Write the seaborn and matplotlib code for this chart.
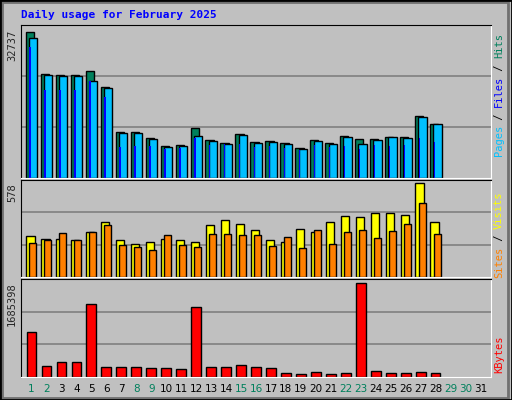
import numpy as np
import matplotlib
matplotlib.use('Agg')
import matplotlib.pyplot as plt
import seaborn as sns
import pandas as pd

# values
days = list(range(1, 32))
hits = [32737, 23200, 23000, 23000, 23900, 20400, 10300, 10300, 9000, 7200,
        7400, 11200, 8500, 7900, 9800, 8100, 8300, 7900, 6700, 8500,
        7900, 9400, 8700, 8700, 9200, 9200, 13900, 12100]
files = [31400, 23000, 22800, 22800, 21700, 20200, 10100, 10100, 8700, 7000,
         7200, 9400, 8300, 7600, 9600, 7900, 8100, 7600, 6500, 8300,
         7600, 9200, 7600, 8500, 9200, 9000, 13700, 12100]
pages = [29400, 19700, 19700, 19700, 21700, 18000, 7000, 7200, 7200, 6500,
         6700, 8900, 7400, 7600, 7600, 6900, 7200, 6700, 6300, 7400,
         6900, 7200, 6500, 7400, 7200, 7400, 9000, 8100]
visits = [250, 235, 235, 230, 276, 340, 230, 202, 213, 235,
          230, 213, 322, 350, 326, 292, 230, 213, 298, 276,
          337, 376, 370, 393, 393, 381, 578, 337]
sites = [208, 230, 272, 230, 276, 320, 196, 185, 168, 259,
         196, 185, 264, 264, 259, 259, 191, 247, 179, 292,
         202, 276, 292, 242, 283, 326, 454, 264]
kbytes = [810000, 200000, 275000, 275000, 1300000, 180000, 180000, 180000, 160000, 160000,
          145000, 1260000, 180000, 180000, 215000, 180000, 160000, 70000, 55000, 90000,
          55000, 70000, 1685398, 110000, 70000, 70000, 90000, 70000]

weekend = {1, 2, 8, 9, 15, 16, 22, 23, 29, 30}
n = len(hits)
d = np.array(days[:n], dtype=float)

sns.set_style('white')
plt.rcParams['font.family'] = ['DejaVu Sans Mono', 'DejaVu Sans']

fig = plt.figure(figsize=(5.12, 4.0), dpi=100, facecolor='#C0C0C0')
W, H = 512, 400

def add_panel(y0, y1):
    ax = fig.add_axes([21 / W, 1 - y1 / H, 470 / W, (y1 - y0) / H])
    ax.set_facecolor('#C0C0C0')
    for s in ax.spines.values():
        s.set_color('black')
    ax.spines['bottom'].set_color('white')
    ax.spines['right'].set_color('white')
    return ax

def bars(ax, xs, vals, color, width, lw=1.0):
    df = pd.DataFrame({'x': xs, 'v': vals})
    sns.barplot(data=df, x='x', y='v', native_scale=True, width=width,
                color=color, saturation=1, edgecolor='black', linewidth=lw, ax=ax)

def finish(ax, top):
    for f in (1 / 3, 2 / 3):
        ax.axhline(top * f, color='#808080', lw=1.2, zorder=0)
    ax.set_ylim(0, top)
    ax.set_xlim(0.3, 31.7)
    ax.set_yticks([])
    ax.set_xticks([])
    ax.set_xlabel('')
    ax.set_ylabel('')

# top: hits / files / pages
ax1 = add_panel(25, 178)
top1 = max(hits) * 1.045
bars(ax1, d - 0.1, hits, '#00805C', 0.55)
bars(ax1, d + 0.12, files, '#00C0FF', 0.55)
bars(ax1, d - 0.09, pages, '#0000FF', 0.1, lw=0)
finish(ax1, top1)
fig.text(17 / W, 1 - 30 / H, str(max(hits)), rotation=90, ha='right', va='top', fontsize=7.5)

# middle: visits / sites
ax2 = add_panel(180, 277)
top2 = max(visits) * 1.035
bars(ax2, d - 0.07, visits, '#FFFF00', 0.55)
bars(ax2, d + 0.1, sites, '#FF8000', 0.47)
finish(ax2, top2)
fig.text(17 / W, 1 - 183 / H, str(max(visits)), rotation=90, ha='right', va='top', fontsize=7.5)

# bottom: kbytes
ax3 = add_panel(279, 377)
top3 = max(kbytes) * 1.04
bars(ax3, d, kbytes, '#FF0000', 0.65)
finish(ax3, top3)
fig.text(17 / W, 1 - 282 / H, str(max(kbytes)), rotation=90, ha='right', va='top', fontsize=7.5)

# day labels
for day in days:
    fig.text((21 + (day - 0.3) / 31.4 * 470) / W, 1 - 389 / H, str(day), ha='center', va='center',
             fontsize=7.5, color='#00805C' if day in weekend else 'black', family='DejaVu Sans')

fig.text(21 / W, 1 - 15 / H, 'Daily usage for February 2025', color='#0000FF',
         fontsize=8, fontweight='bold', va='center')

def side_label(parts, ymid):
    total = sum(len(p) for p, _ in parts)
    y = ymid + total * 6.1 / 2
    for txt, col in parts:
        fig.text(499 / W, 1 - y / H, txt, rotation=90, color=col, ha='center', va='bottom', fontsize=7.5)
        y -= len(txt) * 6.1

side_label([('Pages', '#00C0FF'), (' / ', 'black'), ('Files', '#0000FF'), (' / ', 'black'), ('Hits', '#00805C')], 95)
side_label([('Sites', '#FF8000'), (' / ', 'black'), ('Visits', '#FFFF00')], 235)
side_label([('KBytes', '#FF0000')], 355)

# outer bevel frame
fig.patches.append(plt.Rectangle((2 / W, 2 / H), 506 / W, 396 / H, transform=fig.transFigure,
                                 fill=False, edgecolor='#707070', lw=2))
fig.patches.append(plt.Rectangle((0, 0), 1, 1, transform=fig.transFigure,
                                 fill=False, edgecolor='black', lw=2))

fig.savefig('out.png', dpi=100, facecolor=fig.get_facecolor())
